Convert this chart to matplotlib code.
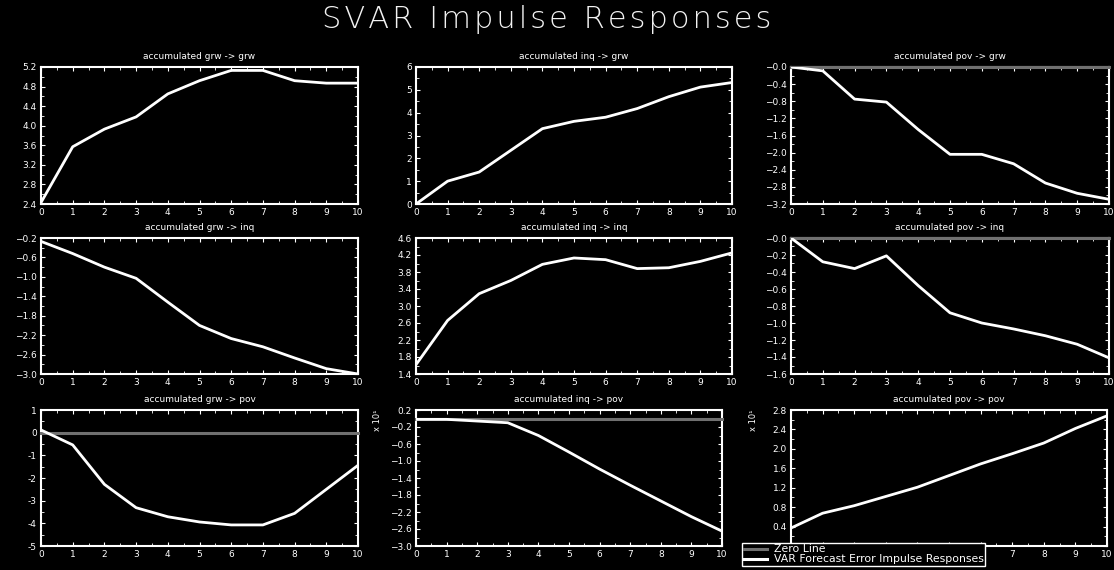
import numpy as np
import matplotlib
matplotlib.use('Agg')
import matplotlib.pyplot as plt
from matplotlib.ticker import FixedLocator, AutoMinorLocator
from matplotlib.lines import Line2D

steps = list(range(11))

grw_grw = [2.43, 3.57, 3.93, 4.18, 4.65, 4.92, 5.13, 5.13, 4.92, 4.87, 4.87]
inq_grw = [0.0, 1.0, 1.40, 2.35, 3.3, 3.62, 3.8, 4.18, 4.7, 5.12, 5.32]
pov_grw = [0.0, -0.09, -0.75, -0.82, -1.46, -2.04, -2.04, -2.26, -2.71, -2.95, -3.09]
grw_inq = [-0.27, -0.52, -0.80, -1.03, -1.52, -2.00, -2.27, -2.44, -2.67, -2.89, -3.0]
inq_inq = [1.62, 2.66, 3.29, 3.60, 3.98, 4.13, 4.09, 3.88, 3.90, 4.05, 4.25]
pov_inq = [0.0, -0.28, -0.36, -0.21, -0.56, -0.88, -1.0, -1.07, -1.15, -1.25, -1.41]
grw_pov = [0.12, -0.54, -2.28, -3.31, -3.71, -3.94, -4.07, -4.07, -3.56, -2.5, -1.44]
inq_pov = [-0.02, -0.02, -0.06, -0.1, -0.4, -0.79, -1.19, -1.57, -1.94, -2.31, -2.65]  # x 10^1
pov_pov = [0.37, 0.675, 0.83, 1.02, 1.21, 1.45, 1.69, 1.9, 2.12, 2.42, 2.68]  # x 10^1

titles = ['accumulated grw -> grw', 'accumulated inq -> grw', 'accumulated pov -> grw',
          'accumulated grw -> inq', 'accumulated inq -> inq', 'accumulated pov -> inq',
          'accumulated grw -> pov', 'accumulated inq -> pov', 'accumulated pov -> pov']
series = [grw_grw, inq_grw, pov_grw, grw_inq, inq_inq, pov_inq, grw_pov, inq_pov, pov_pov]
y_ranges = [(2.4, 5.2, 0.4), (0, 6, 1), (-3.2, 0, 0.4),
            (-3.0, -0.2, 0.4), (1.4, 4.6, 0.4), (-1.6, 0, 0.2),
            (-5, 1, 1), (-3.0, 0.2, 0.4), (0.0, 2.8, 0.4)]
scaled = [False] * 7 + [True, True]

W, H = 1114, 570
# panel boxes in pixels: left, top, right, bottom
cols = [(41, 358), (416, 732), (791, 1109)]
rows = [(67, 204), (238, 374), (410, 546)]

fig = plt.figure(figsize=(W / 100, H / 100), dpi=100, facecolor='black')
plt.rcParams['font.family'] = ['DejaVu Sans']

for i in range(9):
    r, c = divmod(i, 3)
    l, rr = cols[c]
    t, b = rows[r]
    if i == 7:
        rr = 722
    if i == 8:
        rr = 1107
    ax = fig.add_axes([l / W, 1 - b / H, (rr - l) / W, (b - t) / H])
    ax.set_facecolor('black')
    lo, hi, st = y_ranges[i]
    if lo < 0 <= hi:
        ax.axhline(0, color='#707070', lw=2.2, zorder=3, clip_on=False)
    ax.plot(steps, series[i], color='white', lw=2.0, zorder=4, solid_joinstyle='round')
    ax.set_xlim(0, 10)
    ax.set_ylim(lo, hi)
    ax.set_xticks(steps)
    ticks = np.round(np.arange(lo, hi + st / 2, st), 2)
    ax.yaxis.set_major_locator(FixedLocator(ticks))
    if st == 1:
        labs = ['%d' % v for v in ticks]
    else:
        labs = []
        for v in ticks:
            s = '%.1f' % v
            if abs(v) < 1e-9 and hi <= 0:
                s = '-0.0'
            labs.append(s.replace('-', '\u2212'))
    if i == 8:
        # labels that sit under the legend box
        ax.set_xticklabels(['' if s < 7 else str(s) for s in steps])
        labs[0] = ''
    ax.set_yticklabels(labs)
    ax.xaxis.set_minor_locator(AutoMinorLocator(2))
    ax.yaxis.set_minor_locator(AutoMinorLocator(2))
    ax.tick_params(which='both', direction='in', top=True, right=True,
                   colors='white', labelsize=6.5, pad=3)
    ax.tick_params(which='major', length=3, width=0.8)
    ax.tick_params(which='minor', length=2, width=0.6)
    for sp in ax.spines.values():
        sp.set_color('white')
        sp.set_linewidth(1.5)
    ax.set_title(titles[i], color='white', fontsize=6.5, pad=6)
    if scaled[i]:
        fig.text((l - 38) / W, 1 - (t + 10) / H, 'x 10\u00b9', color='white',
                 fontsize=6, rotation=90, ha='center', va='center')

title = '\u200a'.join('SVAR Impulse Responses')
fig.text(547 / W, 1 - 19 / H, title, color='#f2f2f2', fontsize=22,
         ha='center', va='center', fontweight='light')

handles = [Line2D([], [], color='#707070', lw=2.2),
           Line2D([], [], color='white', lw=2.2)]
leg = fig.legend(handles, ['Zero Line', 'VAR Forecast Error Impulse Responses'],
                 loc='lower left', bbox_to_anchor=(742 / W, 1 - 566 / H),
                 fontsize=7.8, frameon=True, fancybox=False, borderpad=0.15,
                 labelspacing=0.0, handlelength=2.2, handletextpad=0.6,
                 borderaxespad=0)
leg.get_frame().set_facecolor('black')
leg.get_frame().set_edgecolor('white')
leg.get_frame().set_alpha(1)
for txt in leg.get_texts():
    txt.set_color('white')

fig.savefig('out.png', dpi=100, facecolor='black')
